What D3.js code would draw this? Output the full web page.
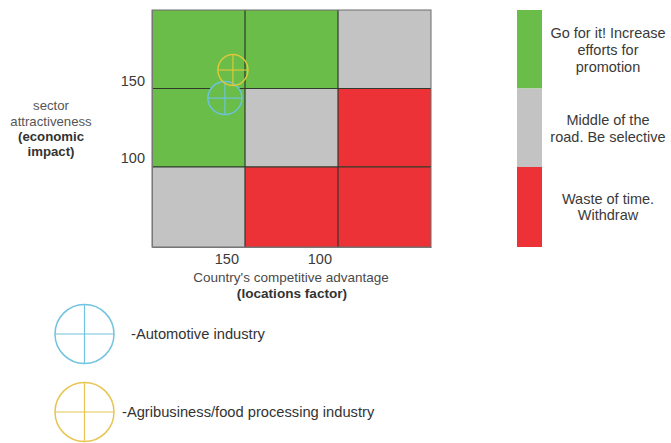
<!DOCTYPE html>
<html><head><meta charset="utf-8">
<script src="https://cdn.jsdelivr.net/npm/d3@7"></script>
<style>
body{margin:0;background:#fff;}
svg{display:block;font-family:"Liberation Sans",Arial,sans-serif;}
</style></head>
<body>
<svg id="chart" width="671" height="443"></svg>
<script>
// ---- data ----
const xBounds = [190, 140, 90, 40];      // competitive advantage (reversed)
const yBounds = [196, 145, 94, 42];      // sector attractiveness (top -> bottom)
const xTicks = [150, 100];
const yTicks = [150, 100];
const cellClasses = [
  ["go", "go", "mid"],
  ["go", "mid", "waste"],
  ["mid", "waste", "waste"]
];
const classNames = ["go", "mid", "waste"];
const classLabels = [
  ["Go for it! Increase", "efforts for", "promotion"],
  ["Middle of the", "road. Be selective"],
  ["Waste of time.", "Withdraw"]
];
const industries = ["-Automotive industry", "-Agribusiness/food processing industry"];
const industryX = [150.8, 146.5];
const industryY = [138.8, 157];

// ---- styles ----
const colors = {go: "#6bbd4a", mid: "#c3c3c3", waste: "#ec3236"};
const markerColors = ["#72c3e0", "#e8c552"];
const innerMarkerColors = ["#6cc2d8", "#dcc83a"];

const svg = d3.select("#chart");
const x = d3.scaleLinear().domain([190, 40]).range([152, 431]);
const y = d3.scaleLinear().domain([42, 196]).range([247, 10]);

// cells
const cells = [];
cellClasses.forEach((row, r) => row.forEach((c, k) => cells.push({r, k, c})));
svg.append("g").selectAll("rect").data(cells).join("rect")
  .attr("x", d => x(xBounds[d.k]))
  .attr("y", d => y(yBounds[d.r]))
  .attr("width", d => x(xBounds[d.k + 1]) - x(xBounds[d.k]))
  .attr("height", d => y(yBounds[d.r + 1]) - y(yBounds[d.r]))
  .attr("fill", d => colors[d.c]);

// inner divider lines
const g = svg.append("g").attr("stroke", "#2f3a2c").attr("stroke-width", 1.2);
xBounds.slice(1, 3).forEach(v => g.append("line")
  .attr("x1", x(v)).attr("x2", x(v)).attr("y1", y(yBounds[0])).attr("y2", y(yBounds[3])));
yBounds.slice(1, 3).forEach(v => g.append("line")
  .attr("x1", x(xBounds[0])).attr("x2", x(xBounds[3])).attr("y1", y(v)).attr("y2", y(v)));
// outer border
svg.append("rect").attr("x", x(190)).attr("y", y(196))
  .attr("width", x(40) - x(190)).attr("height", y(42) - y(196))
  .attr("fill", "none").attr("stroke", "#6d6d6d").attr("stroke-width", 1);

// axes
const xa = svg.append("g").attr("transform", `translate(0,${y(42)})`)
  .call(d3.axisBottom(x).tickValues(xTicks).tickSize(0).tickPadding(7));
const ya = svg.append("g").attr("transform", `translate(${x(190)},0)`)
  .call(d3.axisLeft(y).tickValues(yTicks).tickSize(0).tickPadding(7));
[xa, ya].forEach(a => {
  a.select(".domain").attr("stroke", "#777");
  a.selectAll("text").attr("font-size", 14.5).attr("fill", "#3a3a3a")
    .attr("font-family", "Liberation Sans, Arial, sans-serif");
});

// axis titles
svg.append("text").attr("x", 291).attr("y", 282).attr("text-anchor", "middle")
  .attr("font-size", 13.5).attr("fill", "#4a4a4a").text("Country's competitive advantage");
svg.append("text").attr("x", 292).attr("y", 298).attr("text-anchor", "middle")
  .attr("font-size", 13.6).attr("font-weight", "bold").attr("fill", "#333").text("(locations factor)");
const yt = [["sector", false, 105], ["attractiveness", false, 121], ["(economic", true, 136], ["impact)", true, 151]];
yt.forEach(([t, b, yy]) => svg.append("text").attr("x", 51).attr("y", yy + 4.5)
  .attr("text-anchor", "middle").attr("font-size", 13.2)
  .attr("font-weight", b ? "bold" : "normal").attr("fill", b ? "#333" : "#555").text(t));

// industry markers in chart
function crossMarker(sel, cx, cy, rx, ry, col, fill) {
  sel.append("ellipse").attr("cx", cx).attr("cy", cy).attr("rx", rx).attr("ry", ry)
    .attr("fill", fill).attr("stroke", col).attr("stroke-width", 1.5);
  sel.append("line").attr("x1", cx - rx).attr("x2", cx + rx).attr("y1", cy).attr("y2", cy)
    .attr("stroke", col).attr("stroke-width", 1.2);
  sel.append("line").attr("x1", cx).attr("x2", cx).attr("y1", cy - ry).attr("y2", cy + ry)
    .attr("stroke", col).attr("stroke-width", 1.2);
}
const mk = svg.append("g");
crossMarker(mk, x(industryX[0]), y(industryY[0]), 17, 16.5, innerMarkerColors[0], colors.go);
crossMarker(mk, x(industryX[1]), y(industryY[1]), 15, 15.5, innerMarkerColors[1], "none");

// right legend
const lg = svg.append("g");
classNames.forEach((c, i) => {
  lg.append("rect").attr("x", 517).attr("y", y(yBounds[i])).attr("width", 25)
    .attr("height", y(yBounds[i + 1]) - y(yBounds[i])).attr("fill", colors[c]);
});
const legendY = [[33, 50, 67], [120, 137], [199, 215]];
classLabels.forEach((lines, i) => lines.forEach((t, j) =>
  lg.append("text").attr("x", 608).attr("y", legendY[i][j] + 5).attr("text-anchor", "middle")
    .attr("font-size", 14.5).attr("fill", "#3a3a3a").text(t)));

// bottom legend
const bl = svg.append("g");
const blY = [334, 412];
industries.forEach((t, i) => {
  crossMarker(bl, 84.5, blY[i], 29.5, 29.5, markerColors[i], "none");
  bl.append("text").attr("x", i === 0 ? 131 : 122).attr("y", blY[i] + 5)
    .attr("font-size", 14.7).attr("fill", "#333").text(t);
});
</script>
</body></html>
